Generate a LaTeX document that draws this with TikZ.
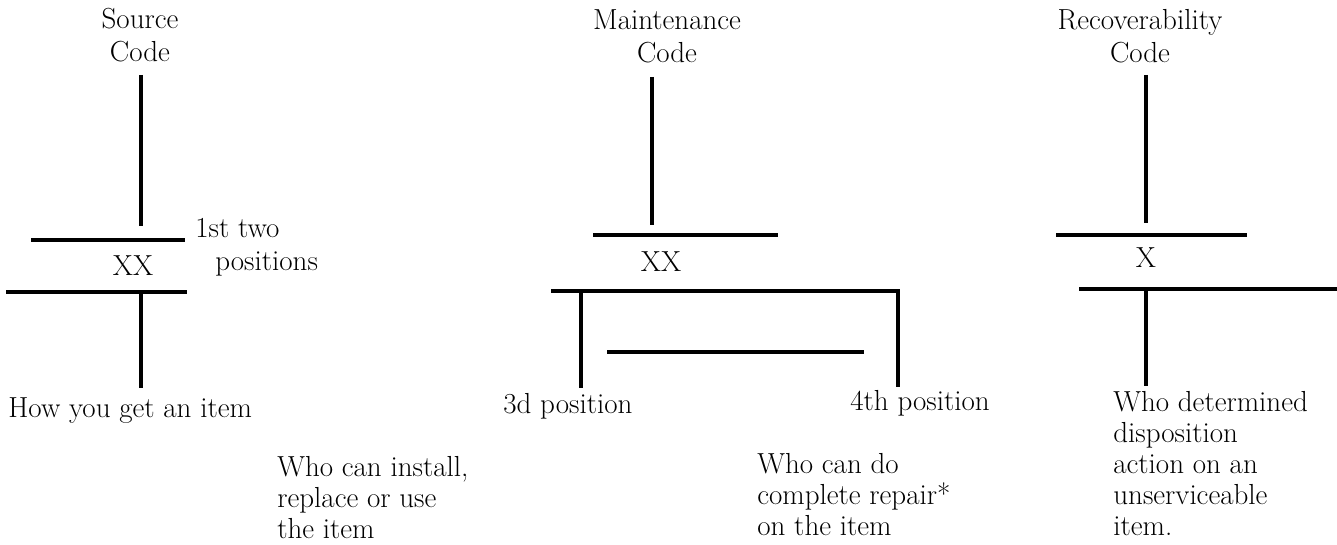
\documentclass[tikz,border=0pt]{standalone}
\usepackage{tikz}
\usetikzlibrary{positioning}

\tikzset{
  bar/.style={line width=2.4pt},
  head/.style={align=center, anchor=base, inner sep=0pt,
    font=\fontsize{16.5}{19.3}\selectfont},
  note/.style={align=left, anchor=base west, inner sep=0pt,
    font=\fontsize{16.5}{17.6}\selectfont},
  code/.style={anchor=base, inner sep=0pt, font=\fontsize{16.5}{18}\selectfont}
}

\begin{document}
\begin{tikzpicture}[x=0.02cm, y=-0.02cm]
  \useasboundingbox (0,0) rectangle (1337,544);

  % Source code (multi-line nodes sit on their last line)
  \node[head] (srchead) at (140,62) {Source\\Code};
  \draw[bar] (141,75) -- (141,226);
  \draw[bar] (31,240) -- (185,240);
  \node[code] (srcxx) at (133,275) {XX};
  \draw[bar] (6,292) -- (187,292);
  \draw[bar] (141,292) -- (141,388);
  \node[note] (srcpos) at (195,237) {1st two};
  \node[note] (srcpos2) at (215,270) {positions};
  \node[note] (srchow) at (8,417) {How you get an item};
  \node[note] (srcwho) at (277,538) {Who can install,\\replace or use\\the item};

  % Maintenance code
  \node[head] (mnthead) at (667,63) {Maintenance\\Code};
  \draw[bar] (652,77) -- (652,225);
  \draw[bar] (593,235) -- (778,235);
  \node[code] (mntxx) at (661,271) {XX};
  \draw[bar] (551,291) -| (898,387);
  \draw[bar] (581,291) -- (581,388);
  \draw[bar] (607,352) -- (864,352);
  \node[note] (mntthird) at (503,413) {3d position};
  \node[note] (mntfourth) at (850,410) {4th position};
  \node[note] (mntwho) at (757,535) {Who can do\\complete repair*\\on the item};

  % Recoverability code
  \node[head] (rechead) at (1140,63) {Recoverability\\Code};
  \draw[bar] (1146,75) -- (1146,223);
  \draw[bar] (1056,235) -- (1247,235);
  \node[code] (recx) at (1146,267) {X};
  \draw[bar] (1079,289) -- (1337,289);
  \draw[bar] (1146,289) -- (1146,386);
  \node[note] (recwho) at (1113,535)
    {Who determined\\disposition\\action on an\\unserviceable\\item.};
\end{tikzpicture}
\end{document}
